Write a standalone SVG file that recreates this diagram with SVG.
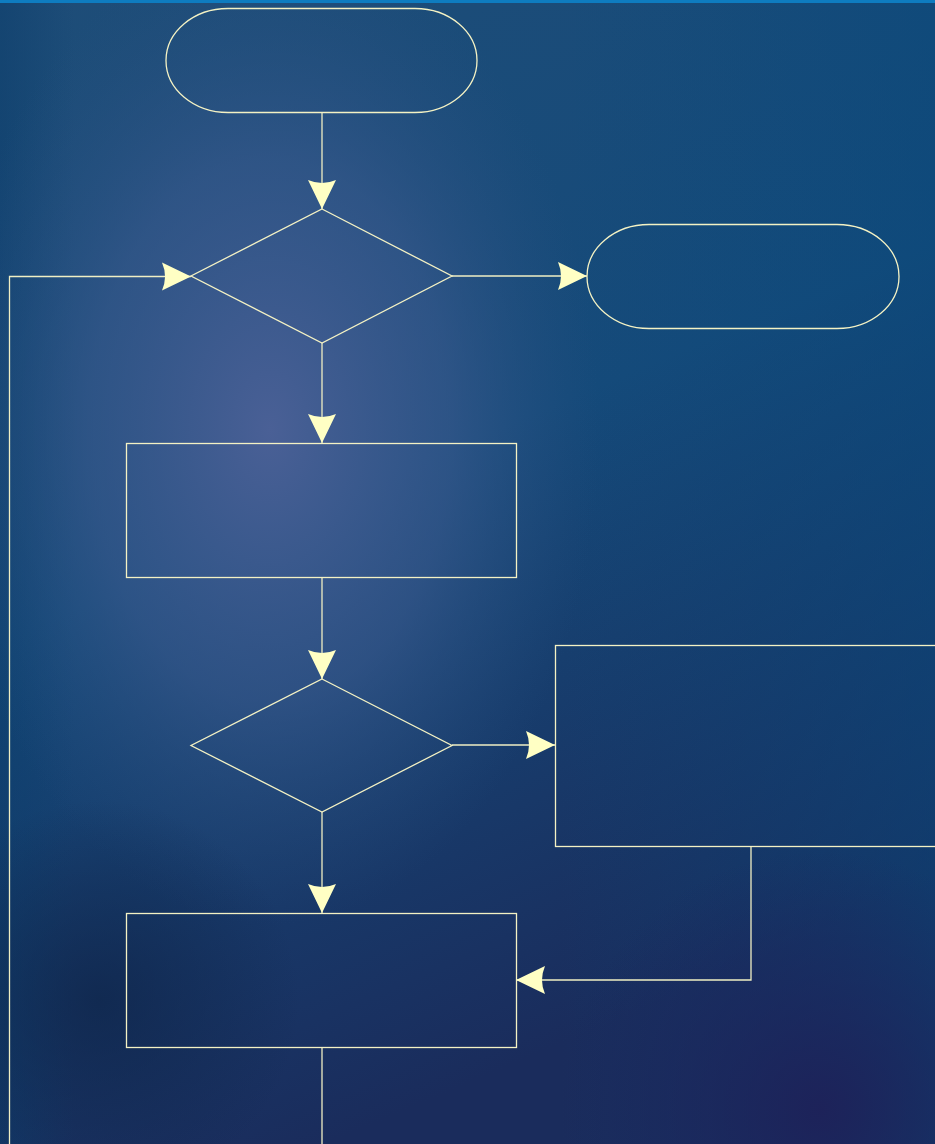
<svg xmlns="http://www.w3.org/2000/svg" width="935" height="1144" viewBox="0 0 935 1144">
<defs>
<linearGradient id="bg" x1="0" y1="0" x2="0.35" y2="1">
<stop offset="0" stop-color="#1e4d78"/>
<stop offset="0.5" stop-color="#154a7a"/>
<stop offset="1" stop-color="#1a2c5c"/>
</linearGradient>
<linearGradient id="bgr" x1="0" y1="0" x2="1" y2="0">
<stop offset="0" stop-color="#0b3c6a" stop-opacity="0.5"/>
<stop offset="0.08" stop-color="#0b3c6a" stop-opacity="0"/>
<stop offset="0.6" stop-color="#0a4a7c" stop-opacity="0"/>
<stop offset="1" stop-color="#08497c" stop-opacity="0.5"/>
</linearGradient>
<radialGradient id="glow" cx="270" cy="430" r="330" gradientUnits="userSpaceOnUse" gradientTransform="translate(270 430) scale(1 1.5) translate(-270 -430)">
<stop offset="0" stop-color="#4a6096" stop-opacity="1"/>
<stop offset="0.55" stop-color="#3c5a8e" stop-opacity="0.6"/>
<stop offset="1" stop-color="#2a5080" stop-opacity="0"/>
</radialGradient>
<radialGradient id="dark" cx="820" cy="1110" r="260" gradientUnits="userSpaceOnUse">
<stop offset="0" stop-color="#1e2058" stop-opacity="0.9"/>
<stop offset="1" stop-color="#1e2058" stop-opacity="0"/>
</radialGradient>
<radialGradient id="darkl" cx="100" cy="1000" r="200" gradientUnits="userSpaceOnUse">
<stop offset="0" stop-color="#0e2448" stop-opacity="0.7"/>
<stop offset="1" stop-color="#0e2448" stop-opacity="0"/>
</radialGradient>
<marker id="ah" viewBox="-31 -16 32 32" refX="0" refY="0" markerWidth="32" markerHeight="32" markerUnits="userSpaceOnUse" orient="auto">
<path d="M0,0 L-29,-14 Q-23,0 -29,14 Z" fill="#ffffc4"/>
</marker>
<style>
.n{fill:none;stroke:#f4f2c4;stroke-width:1.3}
.c{fill:none;stroke:#f0efc4;stroke-width:1.3}
</style>
</defs>
<rect x="0" y="0" width="935" height="1144" fill="url(#bg)"/>
<rect x="0" y="0" width="935" height="1144" fill="url(#bgr)"/>
<rect x="0" y="0" width="935" height="1144" fill="url(#glow)"/>
<rect x="0" y="0" width="935" height="1144" fill="url(#dark)"/>
<rect x="0" y="0" width="935" height="1144" fill="url(#darkl)"/>
<rect x="0" y="0" width="935" height="3" fill="#0e7cc0"/>
<g id="connectors">
<path class="c" d="M322,112 V209" marker-end="url(#ah)"/>
<path class="c" d="M452,276 H587" marker-end="url(#ah)"/>
<path class="c" d="M322,343 V443" marker-end="url(#ah)"/>
<path class="c" d="M322,577 V679" marker-end="url(#ah)"/>
<path class="c" d="M452,745 H555" marker-end="url(#ah)"/>
<path class="c" d="M322,812 V913" marker-end="url(#ah)"/>
<path class="c" d="M751,846 V980 H516" marker-end="url(#ah)"/>
<path class="c" d="M322,1047 V1150"/>
<path class="c" d="M9.5,1150 V276.5 H191" marker-end="url(#ah)"/>
</g>
<g id="start"><rect class="n" x="166" y="8.5" width="311" height="104" rx="62" ry="52"/></g>
<g id="decision1"><path class="n" d="M322,209 L452,276 L322,343 L191,276 Z"/></g>
<g id="end"><rect class="n" x="587" y="224.5" width="312" height="104" rx="62" ry="52"/></g>
<g id="process1"><rect class="n" x="126.5" y="443.5" width="390" height="134"/></g>
<g id="decision2"><path class="n" d="M322,679 L452,745.5 L322,812 L191,745.5 Z"/></g>
<g id="process2"><rect class="n" x="555.5" y="645.5" width="400" height="201"/></g>
<g id="process3"><rect class="n" x="126.5" y="913.5" width="390" height="134"/></g>
</svg>
